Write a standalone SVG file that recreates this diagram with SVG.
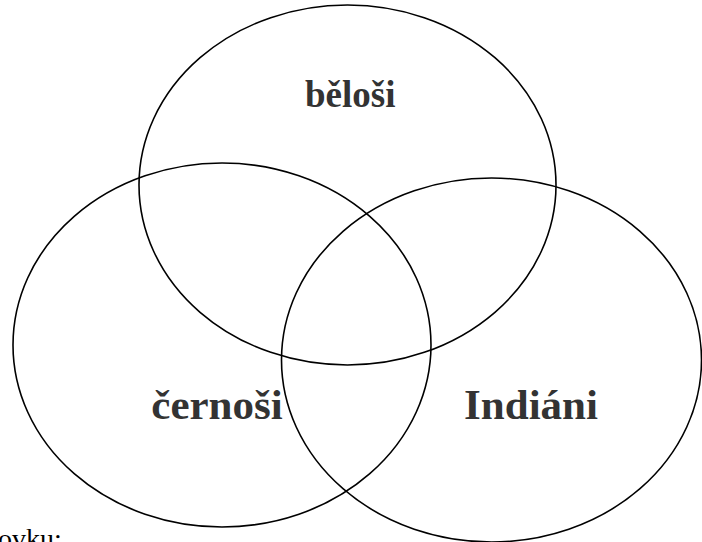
<svg xmlns="http://www.w3.org/2000/svg" width="702" height="542" viewBox="0 0 702 542">
<style>
.set{fill:none;stroke:#000;stroke-width:1.6}
.lbl{font-family:"Liberation Serif","Times New Roman",serif;font-weight:bold;font-size:37px;fill:#333}
.big{font-size:43px;text-anchor:middle}
.cap{font-family:"Liberation Serif","Times New Roman",serif;font-size:28px;fill:#000}
</style>
<rect width="702" height="542" fill="#fff"/>
<g id="belosi">
<ellipse class="set" cx="347.5" cy="185" rx="208.5" ry="180" stroke-width="1.4"/>
<text class="lbl" x="305" y="107">běloši</text>
</g>
<g id="cernosi">
<ellipse class="set" cx="222" cy="345" rx="209" ry="182"/>
<text class="lbl big" x="217" y="419">černoši</text>
</g>
<g id="indiani">
<ellipse class="set" cx="491.5" cy="360" rx="210" ry="182"/>
<text class="lbl big" x="531" y="419">Indiáni</text>
</g>
<g id="connectors"/>
<text class="cap" x="-2" y="548">ovku:</text>
</svg>
